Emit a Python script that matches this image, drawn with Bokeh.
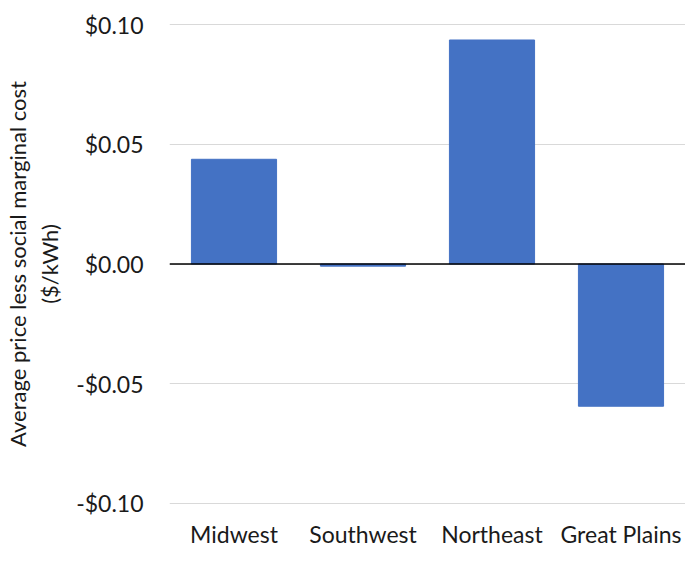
from bokeh.plotting import figure
from bokeh.models import FixedTicker, CustomJSTickFormatter, Span, ColumnDataSource
from bokeh.embed import file_html
from bokeh.resources import INLINE

regions = ["Midwest", "Southwest", "Northeast", "Great Plains"]
values = [0.0438, -0.0009, 0.0937, -0.0595]
y_ticks = [-0.10, -0.05, 0.0, 0.05, 0.10]

FONT = "Lato"
TXT = "#1a1a1a"

src = ColumnDataSource(data=dict(region=regions, value=values))

p = figure(x_range=regions, y_range=(-0.1006, 0.1006),
           frame_width=516, frame_height=481,
           output_backend="svg", toolbar_location=None,
           min_border_left=0, min_border_right=0, min_border_top=23, min_border_bottom=0)
p.x_range.range_padding = 0

p.vbar(x="region", top="value", bottom=0, width=0.66, source=src,
       fill_color="#4472C4", line_color="#4472C4")

p.add_layout(Span(location=0, dimension="width", line_color="#000000", line_width=1.5))

p.outline_line_color = None
p.background_fill_color = "white"
p.border_fill_color = "white"

p.xgrid.grid_line_color = None
p.ygrid.grid_line_color = "#D9D9D9"
p.ygrid.grid_line_width = 1.2

p.yaxis.ticker = FixedTicker(ticks=y_ticks)
p.yaxis.formatter = CustomJSTickFormatter(code="""
    const s = '$' + Math.abs(tick).toFixed(2);
    return tick < -1e-9 ? '-' + s : s;
""")
p.yaxis.axis_line_color = None
p.yaxis.major_tick_line_color = None
p.yaxis.minor_tick_line_color = None
p.yaxis.major_label_standoff = 20
p.yaxis.major_label_text_font = FONT
p.yaxis.major_label_text_font_size = "23px"
p.yaxis.major_label_text_color = TXT
p.yaxis.axis_label = "Average price less social marginal cost\n($/kWh)"
p.yaxis.axis_label_text_font = FONT
p.yaxis.axis_label_text_font_size = "22px"
p.yaxis.axis_label_text_font_style = "normal"
p.yaxis.axis_label_text_color = TXT
p.yaxis.axis_label_standoff = 10

p.xaxis.axis_line_color = None
p.xaxis.major_tick_line_color = None
p.xaxis.minor_tick_line_color = None
p.xaxis.major_label_standoff = 9
p.xaxis.major_label_text_font = FONT
p.xaxis.major_label_text_font_size = "23px"
p.xaxis.major_label_text_color = TXT

open("out.html", "w").write(file_html(p, INLINE))
